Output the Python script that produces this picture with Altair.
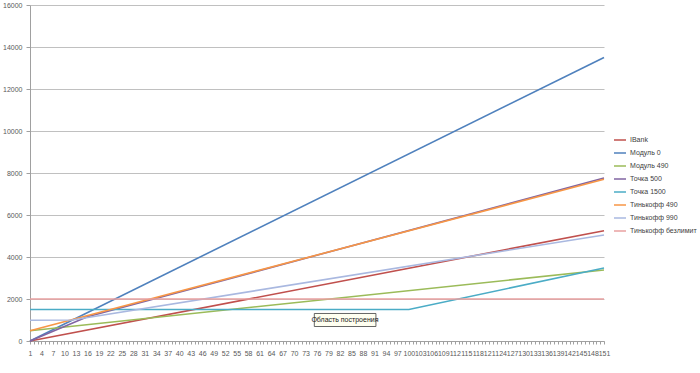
import altair as alt
import pandas as pd

series_names = ["IBank", "Модуль 0", "Модуль 490", "Точка 500", "Точка 1500",
                "Тинькофф 490", "Тинькофф 990", "Тинькофф безлимит"]
series_colors = ["#C0504D", "#4F81BD", "#9BBB59", "#8064A2", "#4BACC6",
                 "#F79646", "#A9B8E0", "#E8A0A0"]

# breakpoints of each (piecewise straight) series: day -> value
ibank_days = [1, 151]
ibank_vals = [0, 5250]
modul0_days = [1, 151]
modul0_vals = [0, 13500]
modul490_days = [1, 151]
modul490_vals = [490, 3380]
tochka500_days = [1, 16, 151]
tochka500_vals = [0, 1150, 7760]
tochka1500_days = [1, 100, 151]
tochka1500_vals = [1500, 1500, 3480]
tink490_days = [1, 151]
tink490_vals = [490, 7700]
tink990_days = [1, 12, 151]
tink990_vals = [990, 1000, 5050]
tinkbez_days = [1, 151]
tinkbez_vals = [2000, 2000]

all_days = [ibank_days, modul0_days, modul490_days, tochka500_days,
            tochka1500_days, tink490_days, tink990_days, tinkbez_days]
all_vals = [ibank_vals, modul0_vals, modul490_vals, tochka500_vals,
            tochka1500_vals, tink490_vals, tink990_vals, tinkbez_vals]

rows = []
for name, ds, vs in zip(series_names, all_days, all_vals):
    for d, v in zip(ds, vs):
        rows.append({"series": name, "day": d, "value": v})
df = pd.DataFrame(rows)

x_ticks = list(range(1, 152))
x_label_step = 3
y_ticks = [0, 2000, 4000, 6000, 8000, 10000, 12000, 14000, 16000]

note_text = ["Область построения"]
note_day = [83.3]
note_val = [1000]
note_box_day = [75.3, 91.4]
note_box_val = [690, 1310]

FONT = "Liberation Sans"

lines = alt.Chart(df).mark_line(strokeWidth=1.6).encode(
    x=alt.X("day:Q",
            scale=alt.Scale(domain=[1, 151], nice=False, zero=False),
            axis=alt.Axis(values=x_ticks, tickCount=len(x_ticks) + 10, title=None, grid=False,
                          labelExpr=f"(datum.value - 1) % {x_label_step} == 0 ? datum.label : ''",
                          labelOverlap=False, labelFlush=False, labelPadding=5,
                          tickSize=3, tickColor="#A0A0A0", domainColor="#A0A0A0",
                          labelFontSize=7, labelFont=FONT, labelColor="#595959")),
    y=alt.Y("value:Q",
            scale=alt.Scale(domain=[0, 16000], nice=False),
            axis=alt.Axis(values=y_ticks, tickCount=20, format="d", title=None,
                          grid=True, gridColor="#C0C0C0",
                          tickSize=4, tickColor="#A0A0A0", domainColor="#A0A0A0",
                          labelFontSize=7, labelFont=FONT, labelColor="#595959",
                          labelPadding=4)),
    color=alt.Color("series:N",
                    scale=alt.Scale(domain=series_names, range=series_colors),
                    sort=series_names,
                    legend=alt.Legend(title=None, orient="none", legendX=583, legendY=128,
                                      symbolType="stroke", symbolSize=144,
                                      symbolStrokeWidth=1.5, labelFontSize=7,
                                      labelFont=FONT, labelColor="#404040",
                                      labelOffset=3, rowPadding=3)),
    order=alt.Order("day:Q"),
)

note_df = pd.DataFrame({"day": note_box_day[:1], "day2": note_box_day[1:],
                        "v": note_box_val[:1], "v2": note_box_val[1:]})
note_box = alt.Chart(note_df).mark_rect(fill="#FFFFF0", stroke="#404040",
                                        strokeWidth=0.8).encode(
    x="day:Q", x2="day2", y="v:Q", y2="v2")

note_tdf = pd.DataFrame({"day": note_day, "value": note_val, "t": note_text})
note = alt.Chart(note_tdf).mark_text(fontSize=7, font=FONT, color="#202020").encode(
    x="day:Q", y="value:Q", text="t:N")

chart = alt.layer(lines, note_box, note).properties(
    width=574, height=336,
    autosize=alt.AutoSizeParams(type="none"),
    padding={"left": 30, "top": 5, "right": 96, "bottom": 32},
    background="white",
).configure_view(stroke=None)

chart.save("out.html", embed_options={"renderer": "svg", "actions": False})
